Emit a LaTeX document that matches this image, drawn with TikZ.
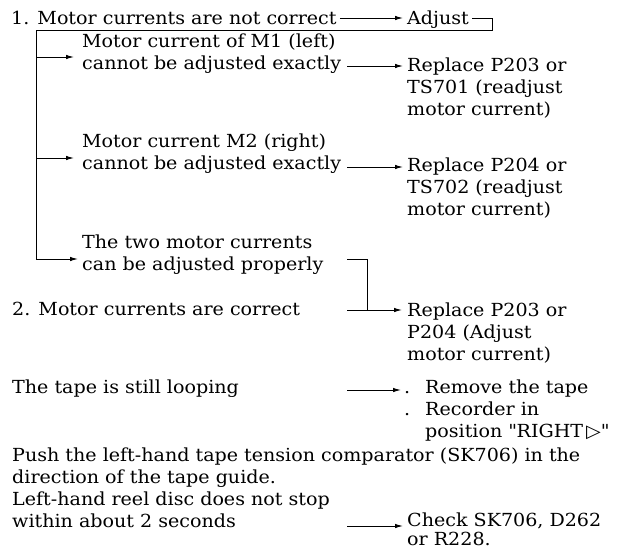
\documentclass[tikz,border=0pt]{standalone}
\usepackage{fontspec}
\setmainfont[FakeStretch=1.06]{DejaVu Serif}
\newfontfamily\symf[FakeStretch=1.06]{DejaVu Sans}
\usetikzlibrary{arrows.meta}
\tikzset{
  txt/.style={anchor=base west, inner sep=0pt, font=\fontsize{18}{22}\selectfont},
  ln/.style={line width=1pt},
  arr/.style={line width=1pt, -{Latex[length=8pt,width=4.5pt]}}
}
\begin{document}
\begin{tikzpicture}[x=1pt,y=-1pt]
\useasboundingbox[fill=white] (0,0) rectangle (620,549);
% column coordinates
\coordinate (colA) at (347,0);
\coordinate (brk) at (492,30);
\coordinate (vtop) at (36,30);
\coordinate (vbot) at (36,259);
\coordinate (jn) at (367,310);
% texts
\node[txt] (l1) at (11,24) {1. Motor currents are not correct};
\node[txt] (adj) at (407,24) {Adjust};
\node[txt] (m1a) at (82,47) {Motor current of M1 (left)};
\node[txt] (m1b) at (82,69) {cannot be adjusted exactly};
\node[txt] (r1a) at (407,71) {Replace P203 or};
\node[txt] (r1b) at (407,93) {TS701 (readjust};
\node[txt] (r1c) at (407,115) {motor current)};
\node[txt] (m2a) at (82,147) {Motor current M2 (right)};
\node[txt] (m2b) at (82,169) {cannot be adjusted exactly};
\node[txt] (r2a) at (407,171) {Replace P204 or};
\node[txt] (r2b) at (407,193) {TS702 (readjust};
\node[txt] (r2c) at (407,215) {motor current)};
\node[txt] (tw1) at (82,248) {The two motor currents};
\node[txt] (tw2) at (82,270) {can be adjusted properly};
\node[txt] (c2) at (12,315) {2. Motor currents are correct};
\node[txt] (r3a) at (407,316) {Replace P203 or};
\node[txt] (r3b) at (407,338) {P204 (Adjust};
\node[txt] (r3c) at (407,360) {motor current)};
\node[txt] (tp) at (12,393) {The tape is still looping};
\node[txt] (rm1) at (404,393) {\makebox[21pt][l]{.}Remove the tape};
\node[txt] (rm2) at (404,415) {\makebox[21pt][l]{.}Recorder in};
\node[txt] (rm3) at (425,437) {position \textquotedbl RIGHT\,{\symf ▷}\textquotedbl};
\node[txt] (ps1) at (12,461) {Push the left-hand tape tension comparator (SK706) in the};
\node[txt] (ps2) at (12,483) {direction of the tape guide.};
\node[txt] (ps3) at (12,505) {Left-hand reel disc does not stop};
\node[txt] (ps4) at (12,527) {within about 2 seconds};
\node[txt] (ck1) at (407,526) {Check SK706, D262};
\node[txt] (ck2) at (407,545) {or R228.};
% connectors
\draw[arr] ([xshift=3pt,yshift=6pt]l1.base east) -- ([xshift=-4pt,yshift=6pt]adj.base west);
\draw[arr] ([xshift=3pt,yshift=6pt]adj.base east) -| (brk) -- (vtop) -- (vbot) -- ([xshift=-4pt]vbot -| tw1.west);
\draw[arr] ([yshift=-10pt]m1a.base -| vtop) -- ([xshift=-8pt,yshift=-10pt]m1a.base west);
\draw[arr] ([yshift=-11pt]m2a.base -| vtop) -- ([xshift=-8pt,yshift=-11pt]m2a.base west);
\draw[arr] ([yshift=3pt]m1b.base -| colA) -- ([xshift=-4pt,yshift=3pt]m1b.base -| r1a.west);
\draw[arr] ([yshift=2pt]m2b.base -| colA) -- ([xshift=-4pt,yshift=2pt]m2b.base -| r2a.west);
\draw[ln] ([yshift=11pt]tw2.base -| colA) -| (jn);
\draw[arr] ([yshift=5pt]c2.base -| colA) -- ([xshift=-5pt,yshift=5pt]c2.base -| r3a.west);
\draw[arr] ([yshift=3pt]tp.base -| colA) -- ([xshift=-3pt,yshift=3pt]rm1.base west);
\draw[arr] ([yshift=1pt]ps4.base -| colA) -- ([xshift=-4pt,yshift=1pt]ps4.base -| ck1.west);
\end{tikzpicture}
\end{document}
